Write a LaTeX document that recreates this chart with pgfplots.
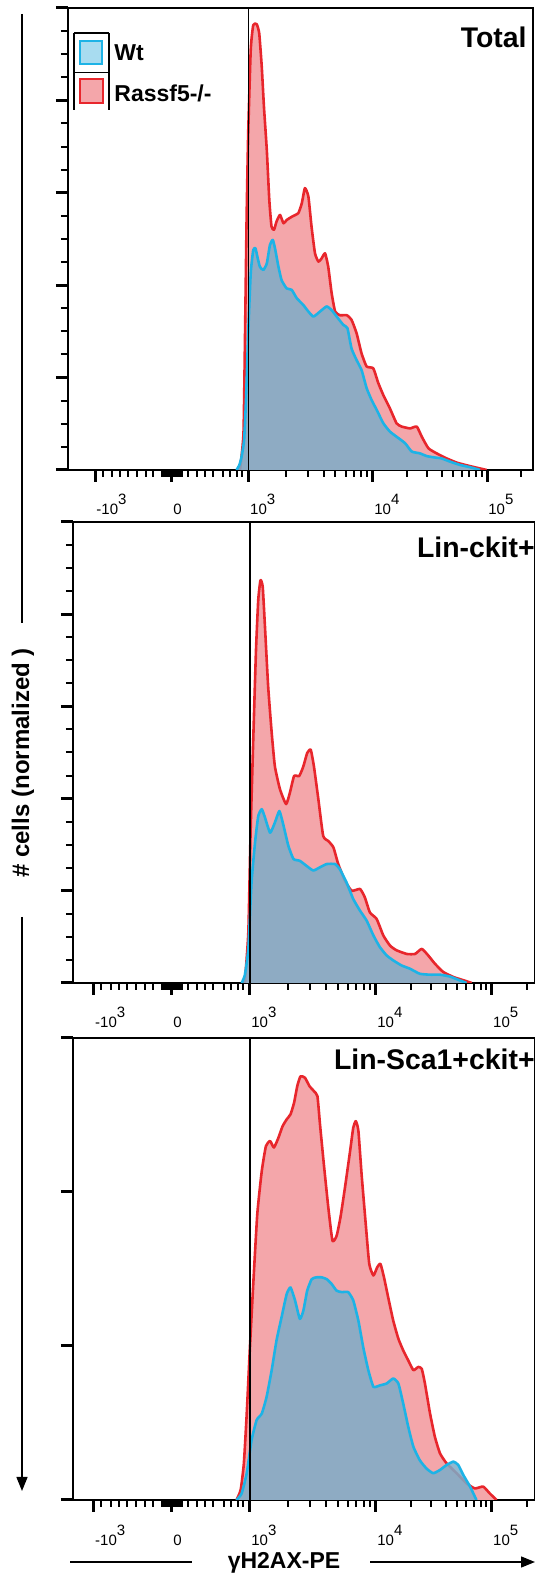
\documentclass[border=0pt]{standalone}
\usepackage{pgfplots}
\pgfplotsset{compat=1.18}
\usepackage{pgfplotstable}
\usepackage{fontspec}
\setmainfont{Liberation Sans}
\usetikzlibrary{arrows.meta}

\definecolor{wtline}{RGB}{29,179,230}
\definecolor{wtfill}{RGB}{125,172,200}
\definecolor{wtkey}{RGB}{168,220,240}
\definecolor{koline}{RGB}{232,38,44}
\definecolor{kofill}{RGB}{244,166,170}

\newcommand{\sups}[1]{\raisebox{5pt}{#1}}

% x: display channel (0 = 0, 24.4 = 10^3, 63.8 = 10^4, 100 = 10^5); y: % of panel height
\pgfplotstableread{
x y
21.6 0
22.7 7.9
23.2 29.6
23.7 54.8
24.2 72.9
25.0 90.9
25.8 96.3
26.9 96.5
27.7 94.5
28.5 87.3
29.2 78.6
30.1 69.3
30.9 58.4
31.6 52.7
32.4 52.0
33.2 53.8
34.3 55.2
35.4 53.4
36.4 54.1
38.0 54.8
40.1 55.6
41.2 57.7
42.2 61.0
43.3 59.2
44.3 52.7
45.4 46.9
46.5 45.1
47.5 45.8
48.6 46.9
49.6 44.0
50.7 38.2
51.8 34.3
53.3 33.5
55.5 33.5
57.0 32.5
58.6 29.6
60.2 25.2
61.8 22.4
63.9 22.0
65.5 18.8
67.1 16.2
69.2 13.3
71.3 10.1
72.9 9.4
75.6 9.0
77.7 9.4
79.3 7.2
81.4 4.7
84.0 3.6
87.2 2.5
90.4 1.6
93.6 1.0
96.7 0.5
99.9 0
}\koTotal

\pgfplotstableread{
x y
20.5 0
21.4 1.1
22.1 2.9
22.9 6.5
23.5 15.2
24.2 29.6
25.0 42.6
25.8 47.6
26.5 48.0
27.1 46.2
27.9 44.0
29.0 43.3
30.1 44.7
31.1 48.7
32.0 49.8
32.7 48.0
33.8 44.0
34.8 41.1
36.4 39.3
38.0 39.0
39.6 37.2
41.7 35.7
43.3 34.3
44.9 33.2
47.0 34.3
49.1 35.4
50.7 34.6
52.3 33.2
54.4 31.4
55.7 30.7
57.0 26.3
58.6 23.8
60.2 21.6
61.8 17.7
63.4 15.1
65.0 13.0
67.1 10.1
69.2 8.3
71.3 7.2
74.0 5.8
76.1 4.0
78.7 3.6
80.9 3.0
83.5 2.7
85.6 2.5
88.3 1.8
91.4 1.1
94.6 0.6
97.8 0
}\wtTotal

\pgfplotstableread{
x y
22.8 0
23.9 11.0
24.6 32.6
25.5 54.3
26.3 72.3
27.0 83.1
27.7 87.4
28.4 85.9
29.1 77.3
30.1 64.3
31.2 54.3
32.2 47.0
33.8 42.0
35.7 38.8
36.9 41.3
38.2 44.9
39.8 44.9
41.1 47.0
42.3 49.9
43.4 50.6
44.4 47.0
45.8 39.8
47.3 31.9
48.9 30.8
50.5 29.4
52.0 25.8
54.1 22.2
56.2 20.0
58.8 20.4
60.3 18.6
61.9 15.3
64.0 13.9
66.1 10.3
68.2 8.1
70.2 7.1
73.4 6.3
76.0 6.3
78.1 7.4
80.1 6.0
82.2 4.2
84.8 2.4
88.0 1.3
91.1 0.6
93.7 0
}\koLK

\pgfplotstableread{
x y
21.8 0
22.8 1.7
23.9 7.4
24.9 21.8
26.0 30.5
27.0 36.2
28.1 37.7
29.1 35.9
30.7 32.6
32.2 34.8
33.6 37.3
34.8 34.4
36.4 29.8
38.0 26.9
40.0 26.5
42.1 25.4
44.2 24.4
46.3 25.1
48.4 25.8
51.0 25.8
52.5 24.7
54.6 21.8
56.7 18.2
58.8 15.7
60.9 13.5
63.0 10.3
65.0 7.8
67.1 6.0
69.2 4.9
71.8 3.8
74.4 3.1
77.5 2.0
80.7 1.8
83.8 1.8
86.9 1.4
89.5 0.7
92.1 0
}\wtLK

\pgfplotstableread{
x y
20.2 0
21.5 2.2
22.5 7.9
23.4 18.7
24.4 33.1
25.5 47.5
26.7 61.9
28.1 71.2
29.4 76.6
30.7 77.7
31.9 76.3
33.3 78.4
34.6 80.9
35.9 82.4
37.1 83.5
38.2 86.0
39.2 89.6
40.2 91.7
41.6 91.4
43.0 89.6
44.4 88.5
45.5 87.4
46.3 81.3
47.5 72.7
48.9 63.3
50.2 56.1
51.5 57.2
52.7 61.2
54.1 67.6
55.7 75.5
56.7 80.6
57.5 82.0
58.3 79.9
59.3 70.5
60.6 59.7
61.7 51.1
63.0 48.6
64.2 50.4
65.2 51.1
66.3 48.2
67.6 43.9
69.2 38.8
70.8 34.9
72.3 32.4
73.9 30.2
75.5 28.1
77.0 28.8
78.1 28.4
79.1 25.2
80.7 18.7
82.2 13.7
83.8 10.1
85.9 7.9
89.0 5.8
92.1 3.6
94.7 2.5
97.3 2.9
99.4 1.4
101.5 0
}\koLSK

\pgfplotstableread{
x y
20.2 0
21.8 1.4
23.4 5.8
24.9 12.9
26.5 17.3
28.1 18.7
29.6 22.3
31.2 28.1
32.7 34.5
34.3 39.6
35.9 44.6
37.1 46.0
38.5 43.2
40.0 39.2
41.1 41.0
42.3 45.3
43.7 47.8
45.2 48.2
46.8 48.2
48.4 47.8
49.9 46.8
51.5 45.3
53.1 45.0
55.1 45.0
56.7 43.2
58.3 38.8
59.8 33.1
61.4 28.1
63.0 24.5
65.0 24.8
67.1 25.2
69.2 26.3
70.8 25.2
72.3 20.9
73.9 15.8
75.5 11.5
77.5 8.6
79.6 6.8
81.7 5.8
83.8 6.5
85.9 7.6
88.0 8.3
89.5 7.6
91.1 5.4
93.2 2.9
95.2 0
}\wtLSK

\pgfplotsset{
  flowpanel/.style={
    scale only axis, anchor=south west,
    ymin=0, ymax=100,
    axis line style={line width=1pt},
    tick align=outside, xtick pos=bottom, ytick pos=left,
    major tick length=6pt, minor tick length=3.5pt,
    major tick style={line width=1.5pt, black},
    minor tick style={line width=1pt, black},
    xtick={-24.4,0,24.4,63.8,100},
    xticklabels={-10\sups{3},0,10\sups{3},10\sups{4},10\sups{5}},
    minor xtick={-22.0,-19.1,-16.5,-13.9,-11.2,-8.3,-5.9,
      -3.2,-2.6,-2.0,-1.4,-0.8,-0.3,0.3,0.8,1.4,2.0,2.6,3.2,
      5.1,7.9,10.5,13.0,16.2,18.4,20.6,22.2,
      36.3,43.2,48.1,51.9,55.1,57.7,60.0,62.0,
      74.7,81.1,85.6,89.1,92.0,94.4,96.5,98.3,110.9},
    yticklabels={},
    xticklabel style={font=\fontsize{7.5}{7.5}\selectfont, anchor=base west,
      inner sep=0pt, xshift=0.5pt, yshift=-16.5pt},
  },
  kofillst/.style={draw=none, fill=kofill, smooth, tension=0.3},
  kolinest/.style={koline, line width=1.3pt, smooth, tension=0.3, line join=round},
  wtfillst/.style={draw=none, fill=wtfill, fill opacity=0.85, smooth, tension=0.3},
  wtlinest/.style={wtline, line width=1.3pt, smooth, tension=0.3, line join=round},
}
\tikzset{
  titlest/.style={anchor=base east, inner sep=0pt,
    font=\fontsize{14.2}{14}\selectfont\bfseries},
}

\begin{document}
\begin{tikzpicture}
\useasboundingbox (0,0) rectangle (267.5pt,786.5pt);

% Total
\begin{axis}[flowpanel, at={(34pt,551.5pt)}, width=232.5pt, height=231pt,
  xmin=-33, xmax=114.6, ytick={0,20,...,100}, minor y tick num=3]
\addplot[kofillst] table {\koTotal} \closedcycle;
\addplot[kolinest] table {\koTotal};
\addplot[wtfillst] table {\wtTotal} \closedcycle;
\addplot[wtlinest] table {\wtTotal};
\draw[line width=0.6pt] (axis cs:24.4,0) -- (axis cs:24.4,100);
\node[titlest, xshift=-3pt, yshift=-20pt] at (rel axis cs:1,1) {Total};
\end{axis}

% Lin-ckit+
\begin{axis}[flowpanel, at={(36.5pt,295pt)}, width=231pt, height=230.5pt,
  xmin=-30.9, xmax=113.5, ytick={0,20,...,100}, minor y tick num=3]
\addplot[kofillst] table {\koLK} \closedcycle;
\addplot[kolinest] table {\koLK};
\addplot[wtfillst] table {\wtLK} \closedcycle;
\addplot[wtlinest] table {\wtLK};
\draw[line width=0.6pt] (axis cs:24.4,0) -- (axis cs:24.4,100);
\node[titlest, xshift=0pt, yshift=-18pt] at (rel axis cs:1,1) {Lin-ckit+};
\end{axis}

% Lin-Sca1+ckit+
\begin{axis}[flowpanel, at={(36.5pt,36.5pt)}, width=231pt, height=231pt,
  xmin=-30.9, xmax=113.5, ytick={0,33.333,66.667,100}, minor y tick num=3]
\addplot[kofillst] table {\koLSK} \closedcycle;
\addplot[kolinest] table {\koLSK};
\addplot[wtfillst] table {\wtLSK} \closedcycle;
\addplot[wtlinest] table {\wtLSK};
\draw[line width=0.6pt] (axis cs:24.4,0) -- (axis cs:24.4,100);
\node[titlest, xshift=0pt, yshift=-16pt] at (rel axis cs:1,1) {Lin-Sca1+ckit+};
\end{axis}

% legend
\draw[line width=0.75pt] (37pt,770pt) -- (37pt,731.5pt);
\draw[line width=0.75pt] (54.5pt,770pt) -- (54.5pt,731.5pt);
\draw[line width=0.75pt] (37pt,770pt) -- (54.5pt,770pt);
\draw[line width=0.75pt] (37pt,750.25pt) -- (54.5pt,750.25pt);
\filldraw[fill=wtkey, draw=wtline, line width=1pt] (40pt,754.5pt) rectangle (51pt,766pt);
\filldraw[fill=kofill, draw=koline, line width=1pt] (40pt,735pt) rectangle (51.5pt,747pt);
\node[anchor=base west, inner sep=0pt, font=\fontsize{11.5}{12}\selectfont\bfseries] at (57pt,756pt) {Wt};
\node[anchor=base west, inner sep=0pt, font=\fontsize{11.5}{12}\selectfont\bfseries] at (57pt,735.5pt) {Rassf5-/-};

% y label
\draw[line width=0.7pt] (11pt,779.5pt) -- (11pt,475pt);
\draw[line width=0.7pt, -{Triangle[length=7pt,width=5.5pt]}] (11pt,328pt) -- (11pt,41pt);
\node[rotate=90, inner sep=0pt, font=\fontsize{12}{12}\selectfont\bfseries] at (11.5pt,405pt) {\# cells (normalized )};

% x label
\draw[line width=0.7pt] (35pt,5.5pt) -- (96pt,5.5pt);
\draw[line width=0.7pt, -{Triangle[length=7pt,width=5.5pt]}] (185pt,5.5pt) -- (267.5pt,5.5pt);
\node[anchor=base, inner sep=0pt, font=\fontsize{11.5}{12}\selectfont\bfseries] at (142pt,2.4pt) {γH2AX-PE};
\end{tikzpicture}
\end{document}
